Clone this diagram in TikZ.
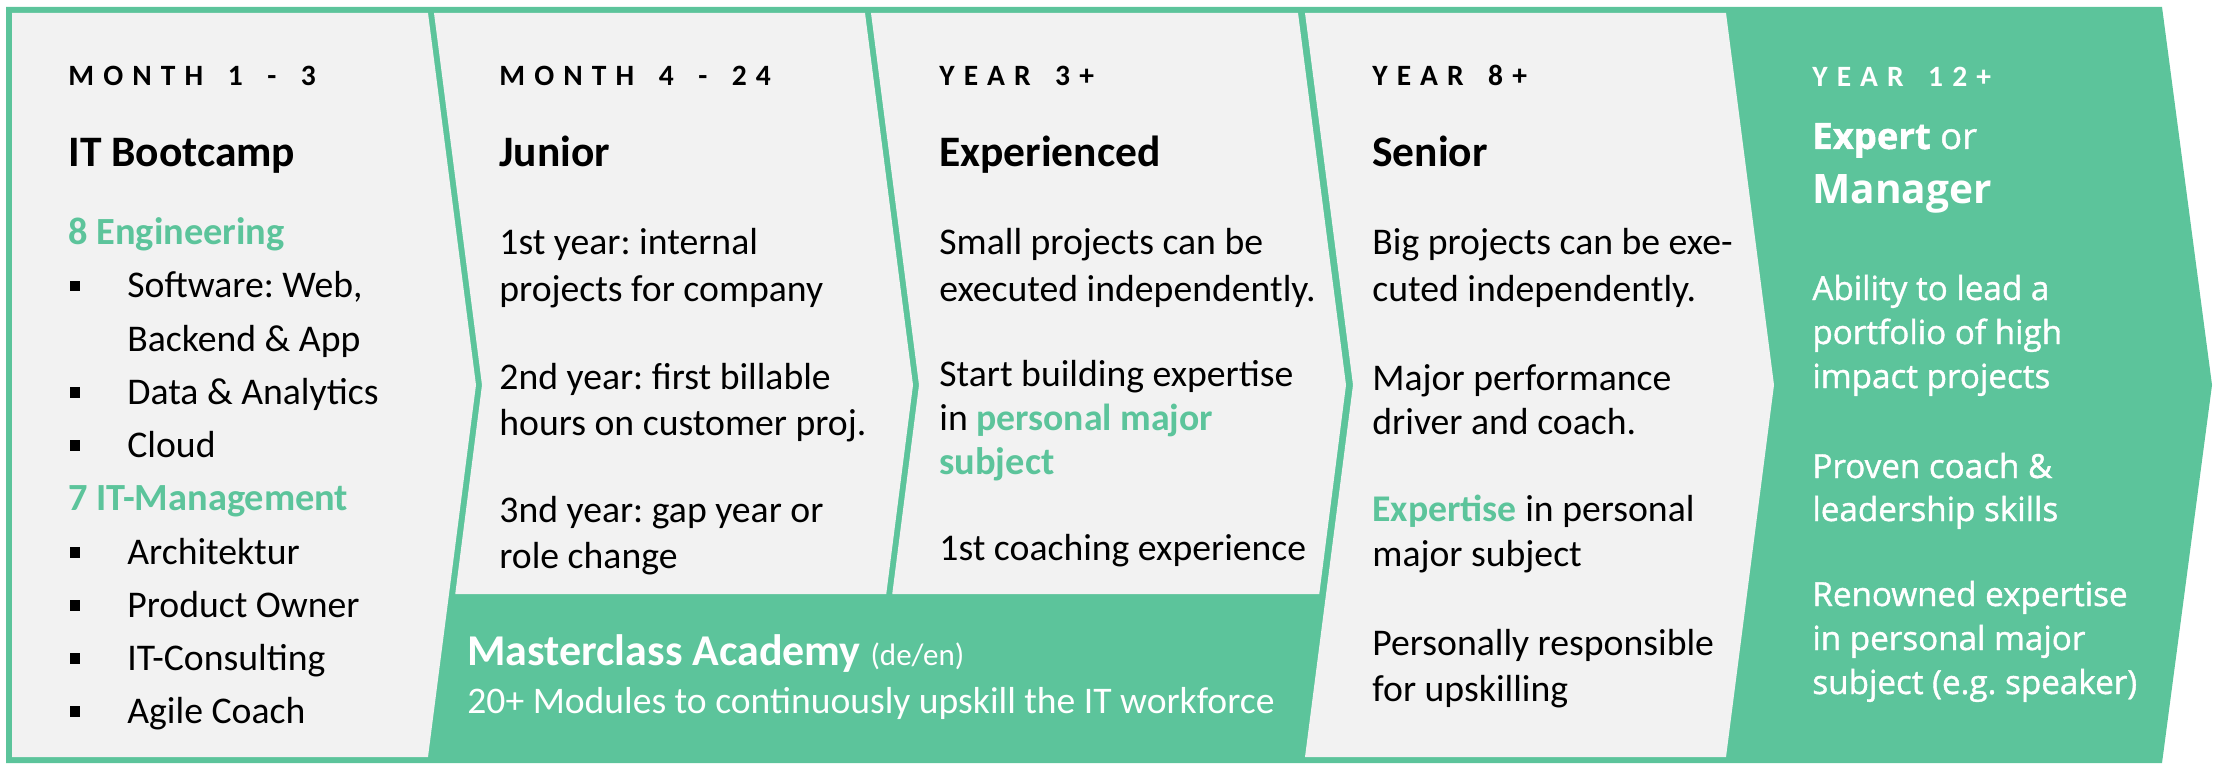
\documentclass[tikz,border=0pt]{standalone}
\usepackage{fontspec}
\setmainfont{Carlito}
\newfontfamily\widefont{Open Sans}
\newfontfamily\widesemi{Open Sans}[FakeBold=1.2]
\newfontfamily\trackfont{Carlito}[LetterSpace=31,WordSpace=1.55]
\definecolor{mint}{RGB}{92,196,155}
\definecolor{panel}{RGB}{242,242,242}
\frenchspacing

\begin{document}
\begin{tikzpicture}[x=0.5pt,y=-0.5pt,
  base/.style={inner sep=0pt, anchor=base west},
  hdr/.style={base, font=\trackfont\bfseries\fontsize{14.75}{17}\selectfont},
  ttl/.style={base, font=\bfseries\fontsize{21.75}{26}\selectfont},
  txt/.style={base, font=\fontsize{18.85}{22}\selectfont},
  grn/.style={base, text=mint, font=\bfseries\fontsize{19.2}{22}\selectfont},
  bul/.style={fill=black, inner sep=0pt, minimum size=5.3pt},
  wtxt/.style={base, text=white, font=\widesemi\fontsize{16.6}{20}\selectfont},
]
\useasboundingbox (0,0) rectangle (2220,770);

% green backdrop with the arrow head on the right
\fill[mint] (6,7) -- (2162,7) -- (2212,385) -- (2162,763) -- (6,763) -- cycle;

% light chevron panels
\fill[panel] (12,13) -- (428,13) -- (476,385) -- (428,757) -- (12,757) -- cycle;
\fill[panel] (434,13) -- (865,13) -- (913,385) -- (886.25,594) -- (455.25,594) -- (482,385) -- cycle;
\fill[panel] (871,13) -- (1298,13) -- (1346,385) -- (1319.25,594) -- (892.25,594) -- (919,385) -- cycle;
\fill[panel] (1305,13) -- (1726,13) -- (1774,385) -- (1726,757) -- (1305,757) -- (1353,385) -- cycle;

% --- IT Bootcamp ---
\node[hdr] (h1) at (68,86) {MONTH 1 - 3};
\node[ttl] (t1) at (68,167) {IT Bootcamp};
\node[grn] (g1) at (68,245) {8 Engineering};
\node[txt] (a1) at (127,297.5) {Software: Web,};
\node[txt] (a2) at (127,351) {Backend \& App};
\node[txt] (a3) at (127,404) {Data \& Analytics};
\node[txt] (a4) at (127,457) {Cloud};
\node[grn] (g2) at (68,510.5) {7 IT-Management};
\node[txt] (a5) at (127,564) {Architektur};
\node[txt] (a6) at (127,617) {Product Owner};
\node[txt] (a7) at (127,670) {IT-Consulting};
\node[txt] (a8) at (127,723) {Agile Coach};
\node[bul] (b1) at (75,286) {};
\node[bul] (b3) at (75,392.5) {};
\node[bul] (b4) at (75,445.5) {};
\node[bul] (b5) at (75,552.5) {};
\node[bul] (b6) at (75,605.5) {};
\node[bul] (b7) at (75,658.5) {};
\node[bul] (b8) at (75,711.5) {};

% --- Junior ---
\node[hdr] (h2) at (499,86) {MONTH 4 - 24};
\node[ttl] (t2) at (499,167) {Junior};
\node[txt] (j1) at (499,255) {1st year: internal};
\node[txt] (j2) at (499,301) {projects for company};
\node[txt] (j3) at (499,389) {2nd year: first billable};
\node[txt] (j4) at (499,435) {hours on customer proj.};
\node[txt] (j5) at (499,522) {3nd year: gap year or};
\node[txt] (j6) at (499,568) {role change};

% --- Experienced ---
\node[hdr] (h3) at (939,86) {YEAR 3+};
\node[ttl] (t3) at (939,167) {Experienced};
\node[txt] (e1) at (939,255) {Small projects can be};
\node[txt] (e2) at (939,301) {executed independently.};
\node[txt] (e3) at (939,386) {Start building expertise};
\node[txt] (e4) at (939,430) {in \textcolor{mint}{\bfseries personal major}};
\node[grn] (e5) at (939,474) {subject};
\node[txt] (e6) at (939,560) {1st coaching experience};

% --- Senior ---
\node[hdr] (h4) at (1372,86) {YEAR 8+};
\node[ttl] (t4) at (1372,167) {Senior};
\node[txt] (s1) at (1372,255) {Big projects can be exe-};
\node[txt] (s2) at (1372,301) {cuted independently.};
\node[txt] (s3) at (1372,390) {Major performance};
\node[txt] (s4) at (1372,434) {driver and coach.};
\node[txt] (s5) at (1372,521) {\textcolor{mint}{\bfseries Expertise} in personal};
\node[txt] (s6) at (1372,566) {major subject};
\node[txt] (s7) at (1372,655) {Personally responsible};
\node[txt] (s8) at (1372,701) {for upskilling};

% --- Expert or Manager ---
\node[hdr, text=white] (h5) at (1812,87) {YEAR 12+};
\node[base, text=white, font=\widesemi\fontsize{18.2}{22}\selectfont] (t5) at (1812,149) {\textbf{Expert} or};
\node[base, text=white, font=\widefont\bfseries\fontsize{20.3}{24}\selectfont] (t6) at (1812,204) {Manager};
\node[wtxt] (x1) at (1812,300) {Ability to lead a};
\node[wtxt] (x2) at (1812,344) {portfolio of high};
\node[wtxt] (x3) at (1812,388) {impact projects};
\node[wtxt] (x4) at (1812,478) {Proven coach \&};
\node[wtxt] (x5) at (1812,521) {leadership skills};
\node[wtxt] (x6) at (1812,606) {Renowned expertise};
\node[wtxt] (x7) at (1812,650) {in personal major};
\node[wtxt] (x8) at (1812,694) {subject (e.g. speaker)};

% --- Masterclass band ---
\node[base, text=white, font=\bfseries\fontsize{22}{26}\selectfont] (m1) at (467,665)
  {Masterclass Academy {\mdseries\fontsize{15.5}{18}\selectfont (de/en)}};
\node[base, text=white, font=\fontsize{18.8}{22}\selectfont] (m2) at (467,713)
  {20+ Modules to continuously upskill the IT workforce};
\end{tikzpicture}
\end{document}
